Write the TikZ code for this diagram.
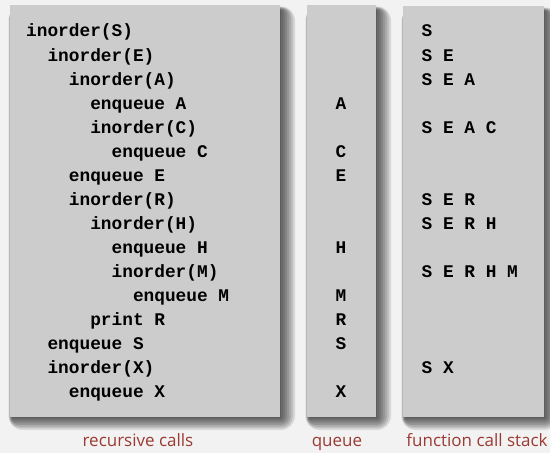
\documentclass[tikz,border=0pt]{standalone}
\usepackage{fontspec}
\newfontfamily\codefont{Liberation Mono}
\newfontfamily\labelfont{Open Sans}
\definecolor{bg}{HTML}{F2F2F2}
\definecolor{panel}{HTML}{CCCCCC}
\definecolor{lab}{HTML}{9B3A33}
\begin{document}
\begin{tikzpicture}[x=1bp,y=-1bp,
  code/.style={font=\codefont\bfseries\fontsize{17.8bp}{20bp}\selectfont, inner sep=0pt, text=black},
  lbl/.style={font=\labelfont\fontsize{17bp}{19bp}\selectfont, inner sep=0pt, text=lab, anchor=base},
  panelbox/.style={fill=panel}]
\useasboundingbox (0,0) rectangle (550,453);
\fill[bg] (0,0) rectangle (550,453);
% shadows (grow mostly to the right and bottom)
\foreach \xa/\ya/\xb/\yb in {10/5/280/417, 307/5/376/417, 403/6/544/417}{
  \foreach \e in {0,2,...,14}{
    \fill[black, opacity=0.11, rounded corners=\e bp]
      (\xa+2-0.25*\e, \ya+5-0.25*\e) rectangle (\xb+1+\e, \yb+1+0.85*\e);
  }
}
% panels
\fill[panelbox] (10,5) rectangle (280,417);
\fill[panelbox] (307,5) rectangle (376,417);
\fill[panelbox] (403,6) rectangle (544,417);
% recursive calls
\foreach \lev/\txt [count=\n] in {0/inorder(S), 1/inorder(E), 2/inorder(A), 3/enqueue A,
  3/inorder(C), 4/enqueue C, 2/enqueue E, 2/inorder(R), 3/inorder(H), 4/enqueue H,
  4/inorder(M), 5/enqueue M, 3/print R, 1/enqueue S, 1/inorder(X), 2/enqueue X}{
  \node[code, anchor=base west] (r\n) at (26+\lev*21.36, 37+\n*24.05-24.05) {\txt};
}
% queue
\foreach \row/\txt in {4/A, 6/C, 7/E, 10/H, 12/M, 13/R, 14/S, 16/X}{
  \node[code, anchor=base] (q\row) at (341, 37+\row*24.05-24.05) {\txt};
}
% stack
\foreach \row/\txt in {1/S, 2/S E, 3/S E A, 5/S E A C, 8/S E R, 9/S E R H, 11/S E R H M, 15/S X}{
  \node[code, anchor=base west] (s\row) at (421.5, 37+\row*24.05-24.05) {\txt};
}
% labels
\node[lbl] (l1) at (138,446) {recursive calls};
\node[lbl] (l2) at (337,446) {queue};
\node[lbl] (l3) at (477,446) {function call stack};
\end{tikzpicture}
\end{document}
